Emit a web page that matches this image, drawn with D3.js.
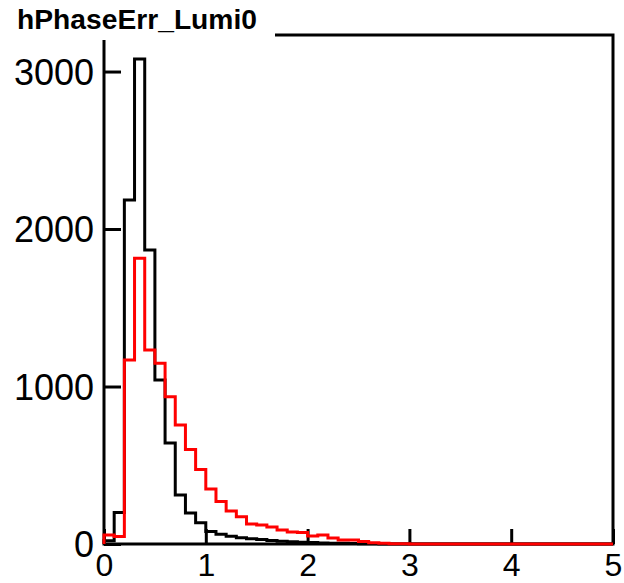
<!DOCTYPE html>
<html>
<head>
<meta charset="utf-8">
<script src="https://cdn.jsdelivr.net/npm/d3@7"></script>
<style>
  html, body { margin: 0; padding: 0; background: #fff; }
  svg { display: block; }
  text { font-family: "Liberation Sans", Arial, Helvetica, sans-serif; }
</style>
</head>
<body>
<div id="chart"></div>
<script>
// Histograma hPhaseErr_Lumi0 : 50 bins de 0 a 5
const TITLE = 'hPhaseErr_Lumi0';
const binEdges = d3.range(0, 51).map(function(i) { return i / 10; });
const xTicks = [0, 1, 2, 3, 4, 5];
const yTicks = [0, 1000, 2000, 3000];

// Serie negra
const blackValues = [20, 200, 2184, 3080, 1867, 1041, 641, 311, 197, 135,
                     80, 62, 50, 40, 33, 28, 22, 18, 14, 11,
                     9, 7, 5, 4, 3, 2, 1, 0, 0, 0,
                     0, 0, 0, 0, 0, 0, 0, 0, 0, 0,
                     0, 0, 0, 0, 0, 0, 0, 0, 0, 0];
// Serie roja
const redValues = [57, 48, 1168, 1814, 1232, 1147, 935, 756, 600, 473,
                   349, 270, 210, 173, 127, 121, 108, 89, 76, 73,
                   51, 57, 38, 25, 25, 16, 8, 4, 2, 1,
                   0, 0, 0, 0, 0, 0, 0, 0, 0, 0,
                   0, 0, 0, 0, 0, 0, 0, 0, 0, 0];

const COLOR_BLACK = '#000000', COLOR_RED = '#ff0000';

const W = 624, H = 583;
const margin = {top: 35, right: 11, bottom: 39, left: 104};

let svg = d3.select('#chart').append('svg')
    .attr('width', W)
    .attr('height', H);

let x = d3.scaleLinear().domain([0, 5]).range([margin.left, W - margin.right]);
let y = d3.scaleLinear().domain([0, 3232]).range([H - margin.bottom, margin.top]);

// Marco
svg.append('rect')
    .attr('x', x(0)).attr('y', y(3232))
    .attr('width', x(5) - x(0)).attr('height', y(0) - y(3232))
    .attr('fill', 'none')
    .attr('stroke', COLOR_BLACK)
    .attr('stroke-width', 3);

// Ejes
let yAxis = svg.append('g')
    .attr('transform', 'translate(' + x(0) + ',0)')
    .call(d3.axisLeft(y).tickValues(yTicks).tickSizeInner(-17).tickSizeOuter(0).tickPadding(10).tickFormat(d3.format('d')));
yAxis.select('.domain').remove();
yAxis.selectAll('line').attr('stroke-width', 3);
yAxis.selectAll('text').attr('font-size', 36).attr('fill', COLOR_BLACK).attr('dy', '0.36em');

let xAxis = svg.append('g')
    .attr('transform', 'translate(0,' + y(0) + ')')
    .call(d3.axisBottom(x).tickValues(xTicks).tickSizeInner(-15).tickSizeOuter(0).tickFormat(d3.format('d')));
xAxis.select('.domain').remove();
xAxis.selectAll('line').attr('stroke-width', 3);
xAxis.selectAll('text').attr('font-size', 32).attr('fill', COLOR_BLACK).attr('y', 32).attr('dy', 0);

// Contorno de histograma
function histPoints(values) {
    let pts = [[binEdges[0], 0]];
    values.forEach(function(v, i) {
        pts.push([binEdges[i], v]);
        pts.push([binEdges[i + 1], v]);
    });
    pts.push([binEdges[binEdges.length - 1], 0]);
    return pts;
}

let line = d3.line()
    .x(function(d) { return x(d[0]); })
    .y(function(d) { return y(d[1]); });

svg.append('path')
    .attr('d', line(histPoints(blackValues)))
    .attr('fill', 'none')
    .attr('stroke', COLOR_BLACK)
    .attr('stroke-width', 3)
    .attr('stroke-linejoin', 'miter');

svg.append('path')
    .attr('d', line(histPoints(redValues)))
    .attr('fill', 'none')
    .attr('stroke', COLOR_RED)
    .attr('stroke-width', 3)
    .attr('stroke-linejoin', 'miter');

// Título
svg.append('rect')
    .attr('x', 0).attr('y', 0)
    .attr('width', 275).attr('height', 40)
    .attr('fill', '#ffffff');

svg.append('text')
    .attr('x', 17).attr('y', 29)
    .attr('font-size', 27)
    .attr('font-weight', 'bold')
    .attr('textLength', 240)
    .attr('lengthAdjust', 'spacingAndGlyphs')
    .text(TITLE);
</script>
</body>
</html>
